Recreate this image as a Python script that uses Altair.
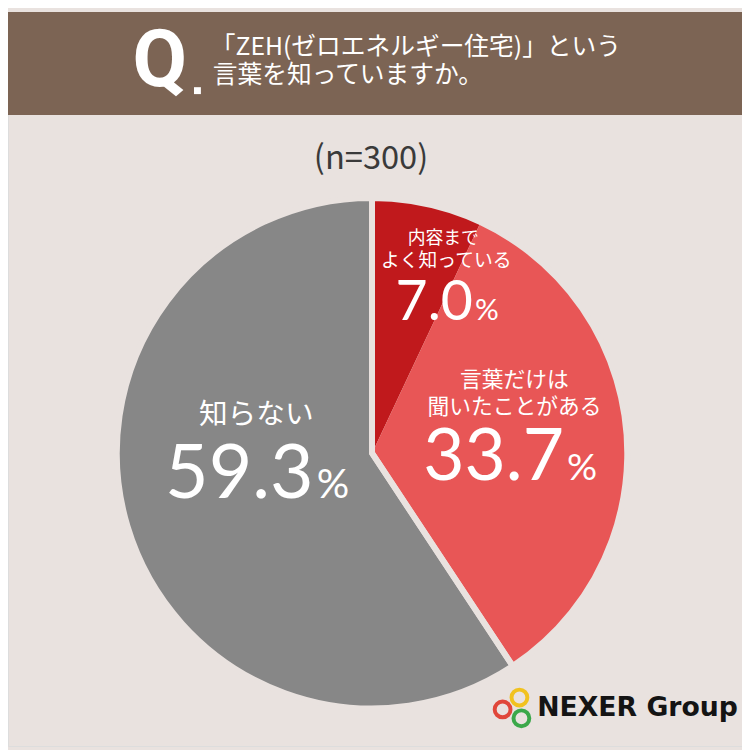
import altair as alt
import pandas as pd

# ---- data ----
categories = ["内容までよく知っている", "言葉だけは聞いたことがある", "知らない"]
values = [7.0, 33.7, 59.3]
label_lines = [["内容まで", "よく知っている"], ["言葉だけは", "聞いたことがある"], ["知らない"]]
slice_colors = ["#c0191c", "#e85656", "#878787"]
question_lines = ["「ZEH(ゼロエネルギー住宅)」という", "言葉を知っていますか。"]
sample_note = "(n=300)"
brand = "NEXER Group"

BG = "#e9e2df"
HEADER = "#7c6454"
W = H = 742
JP = "Noto Sans CJK JP"
NUM = "Lato"

pie_df = pd.DataFrame({"category": categories, "value": values, "order": list(range(len(values)))})
group_df = pd.DataFrame({
    "group": ["知っている", "知らない"],
    "value": [values[0] + values[1], values[2]],
    "order": [0, 1],
})

CX, CY, R = 368, 446, 258

pie = alt.Chart(pie_df).mark_arc(radius=R).encode(
    theta=alt.Theta("value:Q", stack=True),
    color=alt.Color("category:N", scale=alt.Scale(domain=categories, range=slice_colors), legend=None),
    order=alt.Order("order:Q"),
    x=alt.value(CX), y=alt.value(CY),
)

outline = alt.Chart(group_df).mark_arc(radius=R, fillOpacity=0, stroke=BG, strokeWidth=6, strokeJoin="miter").encode(
    theta=alt.Theta("value:Q", stack=True),
    order=alt.Order("order:Q"),
    x=alt.value(CX), y=alt.value(CY),
)


def txt(t, x, y, size, color="white", align="center", baseline="middle", weight="normal", font=JP):
    return alt.Chart(pd.DataFrame({"t": [t]})).mark_text(
        align=align, baseline=baseline, fontSize=size, font=font, fontWeight=weight, color=color
    ).encode(text="t:N", x=alt.value(x), y=alt.value(y))


header = alt.Chart(pd.DataFrame({"a": [0]})).mark_rect(color=HEADER).encode(
    x=alt.value(0), x2=alt.value(W), y=alt.value(0), y2=alt.value(104)
)
qdot = alt.Chart(pd.DataFrame({"a": [0]})).mark_point(
    shape="square", filled=True, size=49, color="white", opacity=1
).encode(x=alt.value(191.5), y=alt.value(79.5))

layers = [
    header,
    txt("Q", 153.5, 75, 80, weight="bold", baseline="alphabetic", font="Roboto"),
    qdot,
    txt(question_lines[0], 205, 35, 25, align="left"),
    txt(question_lines[1], 207, 64, 25, align="left"),
    txt(sample_note, 367, 149, 33, color="#3a3a3a"),
    pie,
    outline,
    # labels
    txt(label_lines[0][0], 440, 230, 18),
    txt(label_lines[0][1], 443, 252, 19),
    txt(f"{values[0]:.1f}", 470, 311, 56, align="right", baseline="alphabetic", font=NUM),
    txt("%", 472, 311, 30, align="left", baseline="alphabetic", font=NUM),
    txt(label_lines[1][0], 512, 372, 22),
    txt(label_lines[1][1], 512, 399, 22),
    txt(f"{values[1]:.1f}", 562, 473, 72, align="right", baseline="alphabetic", font=NUM),
    txt("%", 565, 473, 38, align="left", baseline="alphabetic", font=NUM),
    txt(label_lines[2][0], 251, 407, 29),
    txt(f"{values[2]:.1f}", 309, 491, 76, align="right", baseline="alphabetic", font=NUM),
    txt("%", 312, 491, 41, align="left", baseline="alphabetic", font=NUM),
]

# logo rings
for (rx, ry, rc) in [(517, 693, "#f1c21f"), (500, 705, "#e0473a"), (519, 714, "#3ba84a")]:
    layers.append(
        alt.Chart(pd.DataFrame({"a": [0]})).mark_point(
            shape="circle", filled=False, size=256, strokeWidth=4, color=rc, opacity=1
        ).encode(x=alt.value(rx), y=alt.value(ry))
    )
layers.append(txt(brand, 535, 712, 27, color="#141414", align="left", baseline="alphabetic", weight="bold", font="DejaVu Sans"))

chart = alt.layer(*layers).properties(
    width=W, height=H, padding=0, autosize=alt.AutoSizeParams(type="none")
).configure_view(stroke=None).configure(background=BG)

chart.save("out.html", embed_options={"renderer": "svg", "actions": False})
